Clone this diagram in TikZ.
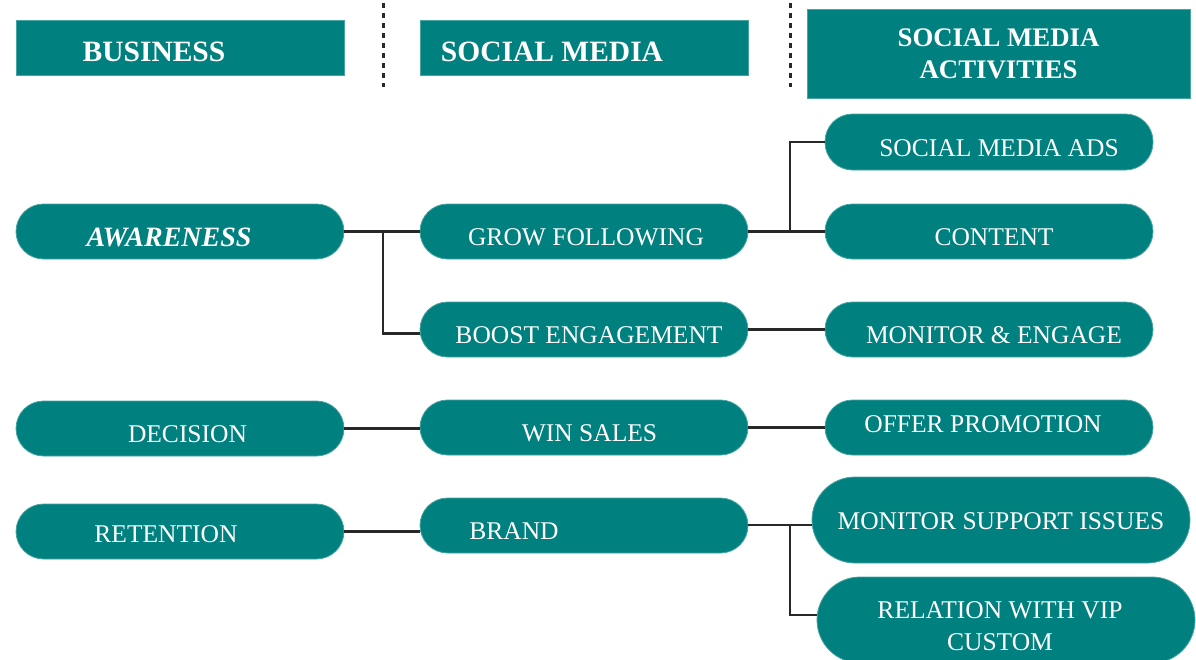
\documentclass[tikz,border=0pt]{standalone}
\usepackage{fontspec}
\setmainfont{Liberation Serif}
\usetikzlibrary{calc}
\definecolor{tealA}{RGB}{0,128,126}
\definecolor{tealB}{RGB}{70,165,162}
\definecolor{lineC}{RGB}{40,40,40}
\newcommand\regf{\fontsize{25.5}{32}\selectfont}
\newcommand\hdrf{\bfseries\fontsize{29.5}{32}\selectfont}
\tikzset{
  pill/.style={fill=tealA, draw=tealB, line width=0.8pt, rounded corners=27.5pt,
    minimum width=328pt, minimum height=55pt, inner sep=0pt},
  bigpill/.style={pill, rounded corners=43pt, minimum width=378pt, minimum height=86pt},
  hdr/.style={fill=tealA, draw=tealB, line width=0.8pt, minimum width=328pt,
    minimum height=55pt, inner sep=0pt},
  lbl/.style={text=white, font=\regf, inner sep=0pt, align=center},
  hlbl/.style={text=white, font=\hdrf, inner sep=0pt, align=center},
  conn/.style={draw=lineC, line width=2.7pt},
  sepline/.style={draw=lineC, line width=3pt, dash pattern=on 5pt off 5pt}
}
\begin{document}
\begin{tikzpicture}[x=1pt,y=-1pt]
\useasboundingbox (0,0) rectangle (1196,659);
\clip (0,0) rectangle (1196,659);
% headers
\node[hdr, label={[hlbl, xshift=-26pt, yshift=-4pt]center:BUSINESS}] (hbus) at (180,47.5) {};
\node[hdr, label={[hlbl, xshift=-32pt, yshift=-4pt]center:SOCIAL MEDIA}] (hsm) at (584,47.5) {};
\node[hdr, minimum width=383pt, minimum height=89pt, label={[hlbl, font=\bfseries\fontsize{26.8}{32}\selectfont]center:SOCIAL MEDIA\\ACTIVITIES}] (hsma) at (998.5,53.5) {};
\draw[sepline] (383,3) -- (383,87);
\draw[sepline] (790,3) -- (790,87);
% column 1
\node[pill, label={[lbl, font=\bfseries\itshape\fontsize{28}{32}\selectfont, xshift=-11pt, yshift=-5.5pt]center:AWARENESS}] (aw) at (180,231.5) {};
\node[pill, label={[lbl, xshift=7.5pt, yshift=-5.5pt]center:DECISION}] (dec) at (180,428.5) {};
\node[pill, label={[lbl, xshift=-14pt, yshift=-3pt]center:RETENTION}] (ret) at (180,531.5) {};
% column 2
\node[pill, label={[lbl, xshift=2pt, yshift=-5.5pt]center:GROW FOLLOWING}] (gf) at (584,231.5) {};
\node[pill, label={[lbl, xshift=5pt, yshift=-5.5pt]center:BOOST ENGAGEMENT}] (be) at (584,329.5) {};
\node[pill, label={[lbl, xshift=5.5pt, yshift=-5.5pt]center:WIN SALES}] (ws) at (584,427.5) {};
\node[pill, label={[lbl, xshift=-70pt, yshift=-5.5pt]center:BRAND}] (br) at (584,525.5) {};
% column 3
\node[pill, minimum height=56pt, label={[lbl, xshift=10pt, yshift=-6pt]center:SOCIAL MEDIA ADS}] (ads) at (989,142) {};
\node[pill, label={[lbl, xshift=5pt, yshift=-5.5pt]center:CONTENT}] (con) at (989,231.5) {};
\node[pill, label={[lbl, xshift=5pt, yshift=-5.5pt]center:MONITOR \& ENGAGE}] (mon) at (989,329.5) {};
\node[pill, label={[lbl, xshift=-6pt, yshift=3.5pt]center:OFFER PROMOTION}] (off) at (989,427.5) {};
\node[bigpill, label={[lbl, yshift=-1pt]center:MONITOR SUPPORT ISSUES}] (msi) at (1001,520) {};
\node[bigpill, label={[lbl, xshift=-6pt, yshift=-6pt]center:RELATION WITH VIP\\CUSTOM}] (rel) at (1006,620) {};
% junctions
\coordinate (j1) at (383,231.5);
\coordinate (j2) at (790,231.5);
\coordinate (j3) at (790,525);
% connectors
\draw[conn] (aw.east) -- (gf.west);
\draw[conn] (j1) |- ($(be.west)+(0,4)$);
\draw[conn] (gf.east) -- (con.west);
\draw[conn] (j2) |- (ads.west);
\draw[conn] (be.east) -- (mon.west);
\draw[conn] (dec.east) -- (dec.east -| ws.west);
\draw[conn] (ws.east) -- (off.west);
\draw[conn] (ret.east) -- (ret.east -| br.west);
\draw[conn] (br.east |- j3) -- (j3 -| msi.west);
\draw[conn] (j3) |- ($(rel.west)+(0,-5)$);
\end{tikzpicture}
\end{document}
